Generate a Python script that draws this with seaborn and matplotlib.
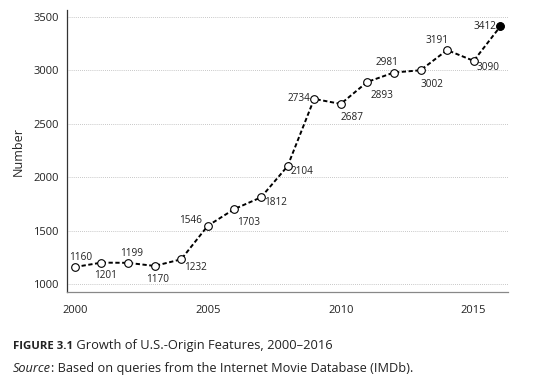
import numpy as np
import pandas as pd
import matplotlib.pyplot as plt
import seaborn as sns

years = [2000, 2001, 2002, 2003, 2004, 2005, 2006, 2007, 2008,
         2009, 2010, 2011, 2012, 2013, 2014, 2015, 2016]
counts = [1160, 1201, 1199, 1170, 1232, 1546, 1703, 1812, 2104,
          2734, 2687, 2893, 2981, 3002, 3191, 3090, 3412]
y_ticks = [1000, 1500, 2000, 2500, 3000, 3500]
x_ticks = [2000, 2005, 2010, 2015]

df = pd.DataFrame({"year": years, "count": counts})

sns.set_style("white")
plt.rcParams["font.family"] = ["Open Sans", "DejaVu Sans"]

fig = plt.figure(figsize=(5.35, 3.9), dpi=100)
ax = fig.add_axes([0.125, 0.251, 0.825, 0.723])

# dashed line with open circles
sns.lineplot(data=df, x="year", y="count", ax=ax, color="black",
             linestyle=(0, (2.2, 1.3)), linewidth=1.4, marker="o",
             markersize=5.5, markerfacecolor="white",
             markeredgecolor="black", markeredgewidth=0.8)
# last year drawn filled
sns.scatterplot(data=df.tail(1), x="year", y="count", ax=ax, color="black",
                s=30, edgecolor="black", zorder=5)

# label placement (offset in points, horizontal alignment)
offsets = [(-4, 7, "left"), (-5, -9, "left"), (-6, 7, "left"), (-6, -10, "left"),
           (2, -6, "left"), (-4, 4, "right"), (2, -10, "left"), (2, -4, "left"),
           (2, -4, "left"), (-3, 0, "right"), (0, -10, "left"), (2, -10, "left"),
           (3, 7, "right"), (0, -10, "left"), (1, 7, "right"), (2, -5, "left"),
           (-3, 0, "right")]
for x, y, (dx, dy, ha) in zip(years, counts, offsets):
    ax.annotate(str(y), (x, y), xytext=(dx, dy), textcoords="offset points",
                ha=ha, va="center", fontsize=7.2, color="#222222")

ax.set_xlim(1999.7, 2016.3)
ax.set_ylim(925, 3565)
ax.set_xticks(x_ticks)
ax.set_yticks(y_ticks)
ax.yaxis.grid(True, linestyle=(0, (1, 1.5)), color="#b5b5b5", linewidth=0.6)
ax.set_xlabel("")
ax.set_ylabel("Number", fontsize=9, labelpad=6)

for s in ["top", "right"]:
    ax.spines[s].set_visible(False)
ax.spines["left"].set_color("#333333")
ax.spines["left"].set_linewidth(0.9)
ax.spines["bottom"].set_color("#888888")
ax.spines["bottom"].set_linewidth(0.9)
ax.tick_params(axis="y", direction="out", length=4, width=0.8,
               labelsize=8, colors="#222222", pad=2)
ax.tick_params(axis="x", direction="in", length=4, width=0.6,
               labelsize=8, colors="#222222", pad=9)
ax.tick_params(axis="x", color="#888888")

# caption lines, pieces placed one after another
renderer = fig.canvas.get_renderer()


def caption_line(parts, y):
    x = 0.024
    for txt, kw in parts:
        t = fig.text(x, y, txt, color="#222222", **kw)
        bb = t.get_window_extent(renderer=renderer)
        x = bb.x1 / fig.bbox.width


caption_line([("FIGURE 3.1", dict(fontsize=8.2, fontweight="bold")),
              (" Growth of U.S.-Origin Features, 2000\u20132016", dict(fontsize=9.3))],
             0.105)
caption_line([("Source", dict(fontsize=9.2, style="italic")),
              (": Based on queries from the Internet Movie Database (IMDb).",
               dict(fontsize=9.2))],
             0.046)

fig.savefig("out.png", dpi=100)
